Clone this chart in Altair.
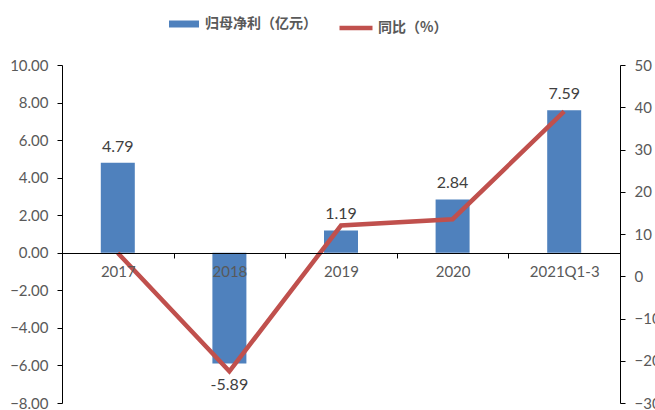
import altair as alt
import pandas as pd

categories = ["2017", "2018", "2019", "2020", "2021Q1-3"]
net_profit = [4.79, -5.89, 1.19, 2.84, 7.59]
yoy_pct = [5.5, -22.5, 12.0, 13.5, 39.0]
bar_name = "归母净利（亿元）"
line_name = "同比（%）"
left_ticks = [-8, -6, -4, -2, 0, 2, 4, 6, 8, 10]
right_ticks = [-30, -20, -10, 0, 10, 20, 30, 40, 50]

BLUE = "#4F81BD"
RED = "#C0504D"
GRAY = "#595959"
FONT = "Lato"
CJK = "Noto Sans CJK SC"

W, H = 558, 338

df = pd.DataFrame({
    "cat": categories,
    "profit": net_profit,
    "yoy": yoy_pct,
    "label": [f"{v:.2f}" for v in net_profit],
    "s1": bar_name,
    "s2": line_name,
})

x_axis = alt.Axis(
    orient="bottom", offset=-150, tickBand="extent", labelAngle=0, grid=False,
    domainColor="black", tickColor="black", tickSize=5, labelPadding=6,
    labelColor=GRAY, labelFont=FONT, labelFontSize=15, zindex=1,
)
x_scale = alt.Scale(paddingInner=0, paddingOuter=0)


def x_enc():
    return alt.X("cat:N", sort=categories, title=None, scale=x_scale, axis=x_axis)


y_left_scale = alt.Scale(domain=[-8, 10], nice=False, zero=False)
y_left_axis = alt.Axis(
    orient="left", values=left_ticks, format=".2f", grid=False,
    labelOverlap=False,
    domainColor="black", tickColor="black", tickSize=5, labelPadding=9,
    labelColor=GRAY, labelFont=FONT, labelFontSize=15,
)


def y_left():
    return alt.Y("profit:Q", scale=y_left_scale, title=None, axis=y_left_axis)


bars = alt.Chart(df).mark_bar(size=34).encode(
    x=x_enc(),
    y=y_left(),
    color=alt.Color(
        "s1:N", scale=alt.Scale(domain=[bar_name], range=[BLUE]),
        legend=alt.Legend(
            title=None, orient="none", legendX=107, legendY=-56,
            symbolType="M-1,-0.233H1V0.233H-1Z", symbolSize=900,
            symbolStrokeWidth=0, labelOffset=6, padding=0,
            labelFont=CJK, labelFontSize=14, labelFontWeight="bold", labelColor=GRAY,
        ),
    ),
)

pos_labels = alt.Chart(df).transform_filter("datum.profit >= 0").mark_text(
    baseline="bottom", dy=-8, font=FONT, fontSize=16, color="#404040"
).encode(x=x_enc(), y=y_left(), text="label:N")

neg_labels = alt.Chart(df).transform_filter("datum.profit < 0").mark_text(
    baseline="top", dy=14, font=FONT, fontSize=16, color="#404040"
).encode(x=x_enc(), y=y_left(), text="label:N")

left = alt.layer(bars, pos_labels, neg_labels)

line = alt.Chart(df).mark_line(strokeWidth=4.5).encode(
    x=x_enc(),
    y=alt.Y(
        "yoy:Q", scale=alt.Scale(domain=[-30, 50], nice=False, zero=False), title=None,
        axis=alt.Axis(
            orient="right", values=right_ticks, format="d", grid=False,
            labelOverlap=False,
            domainColor="black", tickColor="black", tickSize=5, labelPadding=9,
            labelColor=GRAY, labelFont=FONT, labelFontSize=15,
        ),
    ),
    stroke=alt.Stroke(
        "s2:N", scale=alt.Scale(domain=[line_name], range=[RED]),
        legend=alt.Legend(
            title=None, orient="none", legendX=275, legendY=-56,
            symbolType="stroke", symbolSize=1089, symbolStrokeWidth=4.5,
            labelOffset=3, padding=0,
            labelFont=CJK, labelFontSize=14, labelFontWeight="bold", labelColor=GRAY,
        ),
    ),
)

chart = alt.layer(left, line).resolve_scale(
    y="independent", color="independent", stroke="independent"
).properties(
    width=W, height=H,
    background="white",
    padding={"left": 62, "top": 65, "right": 35, "bottom": 7},
    autosize=alt.AutoSizeParams(type="none"),
).configure_view(stroke=None)

chart.save("out.html", embed_options={"renderer": "svg", "actions": False})
